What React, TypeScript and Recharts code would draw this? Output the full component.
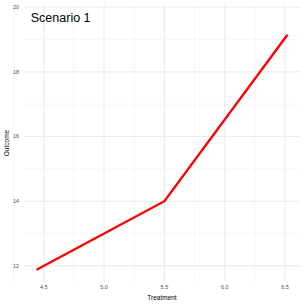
import React from "react";
import { LineChart, Line, XAxis, YAxis, CartesianGrid, ReferenceDot, Label } from "recharts";

const treatment = [4.44, 5.5, 6.52];
const outcome = [11.88, 14.0, 19.15];
const xTicks = [4.5, 5.0, 5.5, 6.0, 6.5];
const yTicks = [12, 14, 16, 18, 20];
const xMinor = [4.25, 4.75, 5.25, 5.75, 6.25];
const yMinor = [13, 15, 17, 19];
const title = "Scenario 1";
const xTitle = "Treatment";
const yTitle = "Outcome";

const data = treatment.map((t, i) => ({ t, o: outcome[i] }));
const FONT = "'Liberation Sans', Arial, sans-serif";

export default function App() {
  return (
    <div style={{ position: "absolute", left: 0, top: 0, background: "#fff" }}>
      <LineChart
        width={305}
        height={305}
        data={data}
        margin={{ top: 4, right: 5, bottom: 0, left: 0 }}
        style={{ fontFamily: FONT }}
      >
        <CartesianGrid
          stroke="#f2f2f2"
          strokeWidth={0.6}
          horizontalValues={yMinor}
          verticalValues={xMinor}
        />
        <CartesianGrid
          stroke="#ebebeb"
          strokeWidth={1.1}
          horizontalValues={yTicks}
          verticalValues={xTicks}
        />
        <XAxis
          dataKey="t"
          type="number"
          domain={[4.336, 6.624]}
          ticks={xTicks}
          tickFormatter={(v: number) => v.toFixed(1)}
          allowDataOverflow
          height={23}
          tickLine={false}
          axisLine={false}
          tickSize={0}
          tickMargin={3}
          tick={{ fontSize: 5.5, fill: "#4d4d4d", fontFamily: FONT }}
        >
          <Label
            value={xTitle}
            position="insideBottom"
            offset={5}
            style={{ fontSize: 6.5, fill: "#000", fontFamily: FONT }}
          />
        </XAxis>
        <YAxis
          type="number"
          domain={[11.5, 20.1]}
          ticks={yTicks}
          allowDataOverflow
          width={24}
          tickLine={false}
          axisLine={false}
          tickSize={0}
          tickMargin={5}
          tick={{ fontSize: 5.5, fill: "#4d4d4d", fontFamily: FONT }}
        >
          <Label
            content={(props: any) => {
              const vb = props.viewBox || {};
              const cx = (vb.x ?? 0) + 6;
              const cy = (vb.y ?? 0) + (vb.height ?? 0) / 2;
              return (
                <text
                  x={cx}
                  y={cy}
                  transform={`rotate(-90, ${cx}, ${cy})`}
                  textAnchor="middle"
                  dominantBaseline="central"
                  fontSize={6.5}
                  fill="#000"
                  fontFamily={FONT}
                >
                  {yTitle}
                </text>
              );
            }}
          />
        </YAxis>
        <Line
          type="linear"
          dataKey="o"
          stroke="#ff0000"
          strokeWidth={2.4}
          dot={false}
          isAnimationActive={false}
        />
        <ReferenceDot
          x={4.64}
          y={19.67}
          r={0}
          fill="none"
          stroke="none"
          label={{
            value: title,
            position: "center",
            fontSize: 12.5,
            fill: "#000",
            fontFamily: FONT,
          }}
        />
      </LineChart>
    </div>
  );
}
